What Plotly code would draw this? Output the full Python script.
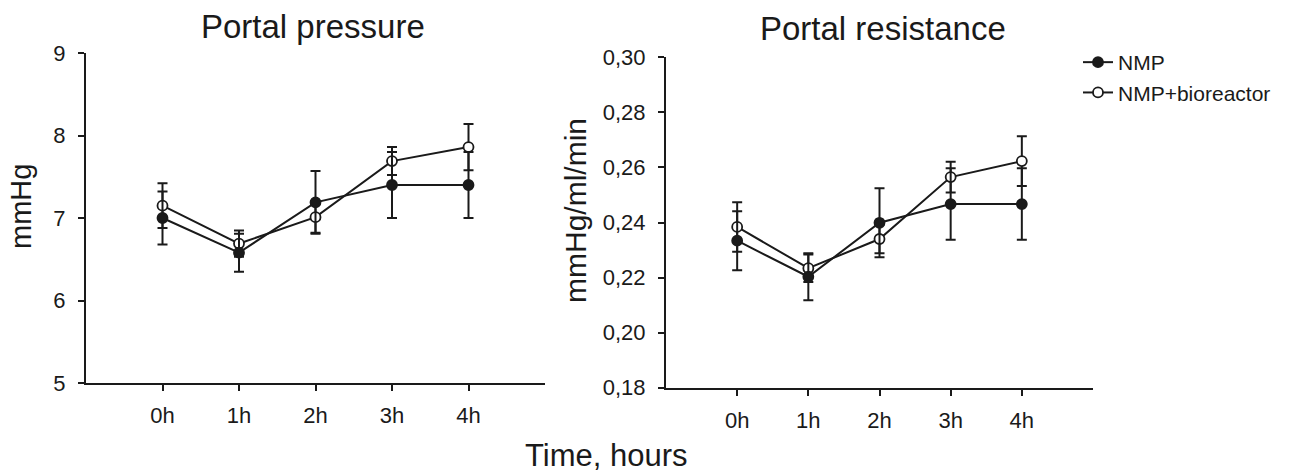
import plotly.graph_objects as go

# ---------------- data ----------------
time_labels = ["0h", "1h", "2h", "3h", "4h"]
time_pos = [0, 1, 2, 3, 4]

pressure_nmp = [7.00, 6.58, 7.19, 7.40, 7.40]
pressure_nmp_err = [0.32, 0.23, 0.38, 0.40, 0.40]
pressure_bio = [7.15, 6.69, 7.01, 7.69, 7.86]
pressure_bio_err = [0.27, 0.16, 0.19, 0.17, 0.28]

resist_nmp = [0.2334, 0.2203, 0.2399, 0.2467, 0.2467]
resist_nmp_err = [0.0107, 0.0085, 0.0125, 0.0130, 0.0130]
resist_bio = [0.2384, 0.2234, 0.2340, 0.2565, 0.2623]
resist_bio_err = [0.0090, 0.0050, 0.0052, 0.0056, 0.0090]

pressure_ticks = [5, 6, 7, 8, 9]
resist_ticks = [0.18, 0.20, 0.22, 0.24, 0.26, 0.28, 0.30]

# ---------------- layout helpers ----------------
W, H = 1304, 475
def px(x):
    return x / W
def py(y):
    return 1 - y / H

INK = "#1a1a1a"
FONT = "Liberation Sans, Arial, Helvetica, sans-serif"

fig = go.Figure()

def add_series(xaxis, yaxis, y, err, filled, name, show):
    fig.add_trace(go.Scatter(
        x=time_pos, y=y, mode="lines+markers", name=name,
        xaxis=xaxis, yaxis=yaxis, showlegend=show,
        legendgroup=name, legendrank=1 if filled else 2,
        line=dict(color=INK, width=2),
        marker=dict(symbol="circle", size=10,
                    color=INK if filled else "white",
                    line=dict(color=INK, width=1.8)),
        error_y=dict(type="data", array=err, visible=True,
                     color=INK, thickness=2, width=5),
    ))

add_series("x", "y", pressure_bio, pressure_bio_err, False, "NMP+bioreactor", True)
add_series("x", "y", pressure_nmp, pressure_nmp_err, True, "NMP", True)
add_series("x2", "y2", resist_bio, resist_bio_err, False, "NMP+bioreactor", False)
add_series("x2", "y2", resist_nmp, resist_nmp_err, True, "NMP", False)

axis_common = dict(showline=True, linecolor=INK, linewidth=2, ticks="outside",
                   ticklen=6, tickwidth=2, tickcolor=INK, showgrid=False,
                   zeroline=False, automargin=False,
                   tickfont=dict(size=22, color=INK, family=FONT))

fig.update_layout(
    width=W, height=H,
    margin=dict(l=0, r=0, t=0, b=0, pad=0, autoexpand=False),
    paper_bgcolor="white", plot_bgcolor="white",
    separators=", ",
    font=dict(family=FONT, color=INK),
    xaxis=dict(domain=[px(86), px(545)], range=[-1, 5], anchor="y",
               tickvals=time_pos, ticktext=time_labels, ticklabelstandoff=6,
               **axis_common),
    yaxis=dict(domain=[py(383), py(53)], range=[5, 9], anchor="x",
               tickvals=pressure_ticks, ticklabelstandoff=8, **axis_common),
    xaxis2=dict(domain=[px(666), px(1093)], range=[-1, 5], anchor="y2",
                tickvals=time_pos, ticktext=time_labels, ticklabelstandoff=6,
                **axis_common),
    yaxis2=dict(domain=[py(387.7), py(57.3)], range=[0.18, 0.30], anchor="x2",
                tickvals=resist_ticks, tickformat=".2f", ticklabelstandoff=8,
                **axis_common),
    legend=dict(x=px(1078), y=py(42), xanchor="left", yanchor="top",
                font=dict(size=21, color=INK, family=FONT),
                bgcolor="rgba(0,0,0,0)", tracegroupgap=11,
                traceorder="normal"),
    annotations=[
        dict(text="Portal pressure", x=px(312.5), y=py(26), xref="paper", yref="paper",
             showarrow=False, xanchor="center", yanchor="middle",
             font=dict(size=33, color=INK, family=FONT)),
        dict(text="Portal resistance", x=px(883), y=py(28), xref="paper", yref="paper",
             showarrow=False, xanchor="center", yanchor="middle",
             font=dict(size=33, color=INK, family=FONT)),
        dict(text="Time, hours", x=px(606), y=py(455), xref="paper", yref="paper",
             showarrow=False, xanchor="center", yanchor="middle",
             font=dict(size=31, color=INK, family=FONT)),
        dict(text="mmHg", x=px(21), y=py(207), xref="paper", yref="paper",
             showarrow=False, xanchor="center", yanchor="middle", textangle=-90,
             font=dict(size=29, color=INK, family=FONT)),
        dict(text="mmHg/ml/min", x=px(575), y=py(211), xref="paper", yref="paper",
             showarrow=False, xanchor="center", yanchor="middle", textangle=-90,
             font=dict(size=30, color=INK, family=FONT)),
    ],
)

fig.write_html("out.html")
